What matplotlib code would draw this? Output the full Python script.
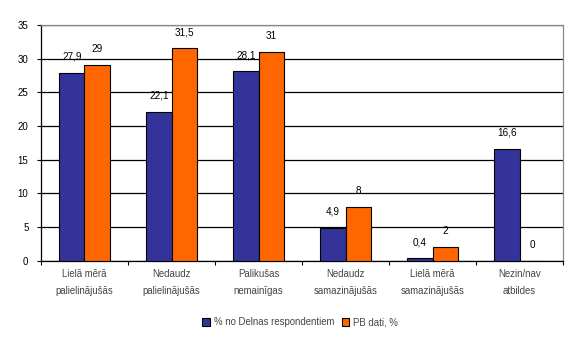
import matplotlib
matplotlib.use("Agg")
import matplotlib.pyplot as plt
import numpy as np

categories = ["Lielā mērā\npalielinājušās", "Nedaudz\npalielinājušās",
              "Palikušas\nnemainīgas", "Nedaudz\nsamazinājušās",
              "Lielā mērā\nsamazinājušās", "Nezin/nav\natbildes"]
delna = [27.9, 22.1, 28.1, 4.9, 0.4, 16.6]
pb = [29, 31.5, 31, 8, 2, 0]
series_names = ["% no Delnas respondentiem", "PB dati, %"]

plt.rcParams['font.family'] = ['Liberation Sans', 'DejaVu Sans']

fig = plt.figure(figsize=(5.77, 3.41), dpi=100)
ax = fig.add_axes([0.071, 0.235, 0.905, 0.692])

x = np.arange(len(categories))
w = 0.293
b1 = ax.bar(x - w / 2, delna, w, color="#333399", edgecolor="black", linewidth=0.8,
            label=series_names[0], zorder=3)
b2 = ax.bar(x + w / 2, pb, w, color="#FF6600", edgecolor="black", linewidth=0.8,
            label=series_names[1], zorder=3)

def fmt(v):
    return ("%g" % v).replace(".", ",")

for bars, vals in ((b1, delna), (b2, pb)):
    for r, v in zip(bars, vals):
        ax.annotate(fmt(v), (r.get_x() + r.get_width() / 2, v),
                    xytext=(0, 11.5), textcoords="offset points",
                    ha="center", va="center", fontsize=7.2)

ax.set_xlim(-0.5, len(categories) - 0.5)
ax.set_ylim(0, 35)
ax.set_yticks(range(0, 36, 5))
ax.yaxis.grid(True, color="black", linewidth=0.9, zorder=0)
ax.set_axisbelow(True)

ax.set_xticks(x)
ax.set_xticklabels(categories, fontsize=6.9, color="#444444", linespacing=1.9)
ax.set_xticks(np.arange(-0.5, len(categories)), minor=True)
ax.tick_params(axis="x", which="major", length=0, pad=6)
ax.tick_params(axis="x", which="minor", length=3, width=0.8, direction="out")
ax.tick_params(axis="y", length=3, width=0.8, labelsize=7, pad=6)

for side in ("top", "right"):
    ax.spines[side].set_color("#888888")
    ax.spines[side].set_linewidth(0.9)
for side in ("left", "bottom"):
    ax.spines[side].set_color("black")
    ax.spines[side].set_linewidth(0.9)

fig.legend(handles=[b1, b2], loc="center", bbox_to_anchor=(0.52, 0.055), ncol=2,
           frameon=False, fontsize=6.9, handlelength=0.8, handleheight=0.8,
           handletextpad=0.4, columnspacing=0.8, labelcolor="#444444")

fig.savefig("out.png", dpi=100)
